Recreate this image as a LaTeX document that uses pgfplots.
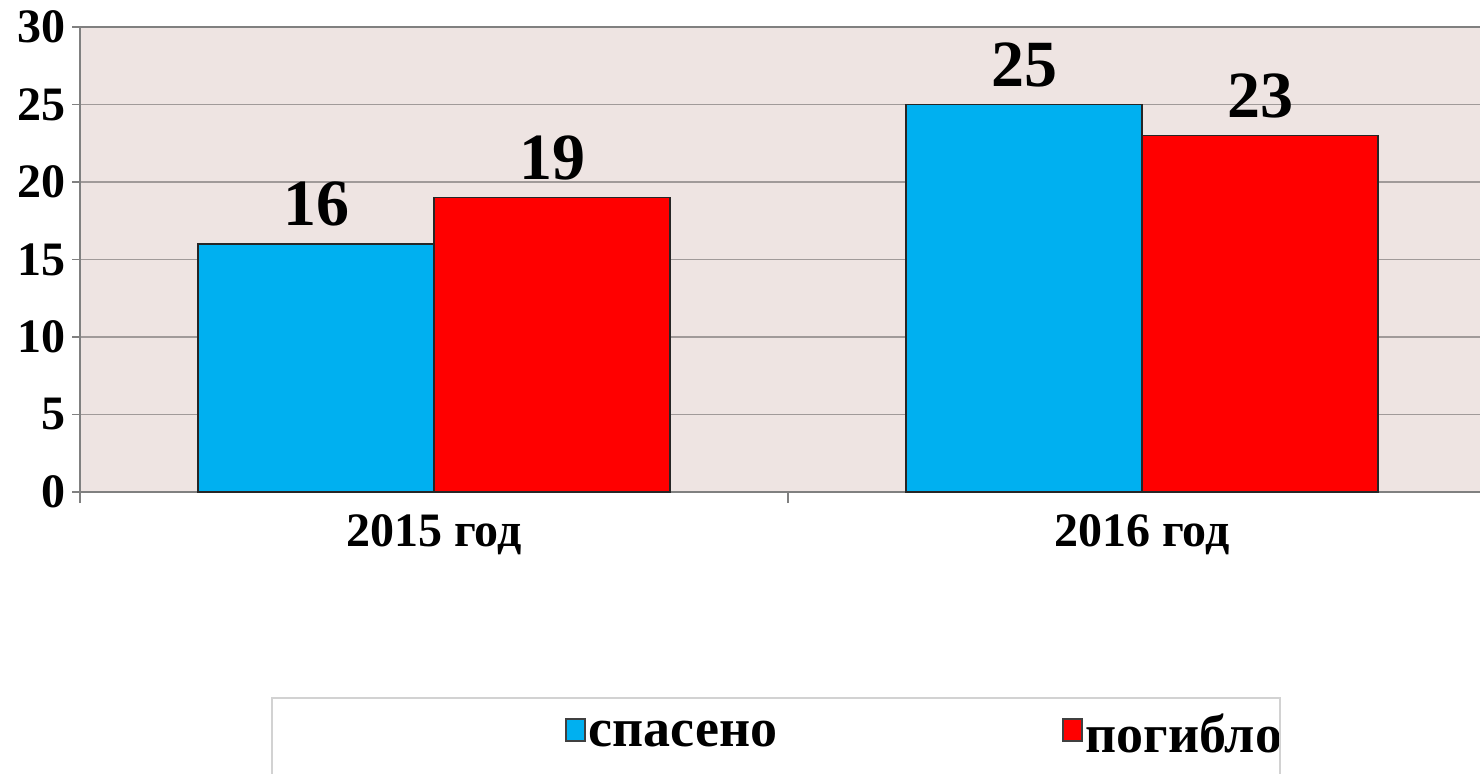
\documentclass[border=0pt]{standalone}
\usepackage{pgfplots}
\pgfplotsset{compat=1.18}
\usepackage{fontspec}
\setmainfont{Liberation Serif}

\definecolor{bgpink}{RGB}{238,228,226}
\definecolor{gridgray}{RGB}{160,154,153}
\definecolor{axisgray}{RGB}{128,128,128}
\definecolor{savedblue}{RGB}{0,176,240}
\definecolor{deadred}{RGB}{255,0,0}

\begin{document}
\begin{tikzpicture}
\begin{axis}[
    at={(40pt,140.5pt)}, anchor=south west,
    scale only axis,
    width=708pt, height=232.5pt,
    ybar=0pt, bar width=118pt,
    xmin=0.5, xmax=2.5,
    ymin=0, ymax=30,
    ytick={0,5,...,30},
    xtick={1,2},
    xticklabels={2015 год, 2016 год},
    minor xtick={0.5,1.5,2.5},
    major x tick style={draw=none},
    minor x tick style={axisgray, line width=0.8pt},
    y tick style={axisgray, line width=0.8pt},
    tick align=outside,
    xtick pos=bottom, ytick pos=left,
    major tick length=4pt,
    minor tick length=5.5pt,
    ymajorgrids,
    grid style={gridgray, line width=0.9pt},
    axis line style={axisgray, line width=0.9pt},
    axis background/.style={fill=bgpink},
    /pgf/number format/assume math mode=true,
    ticklabel style={font=\bfseries\fontsize{24}{24}\selectfont},
    yticklabel style={inner xsep=3pt},
    xticklabel style={yshift=-4pt},
    nodes near coords,
    nodes near coords style={font=\bfseries\fontsize{33}{33}\selectfont,
        anchor=south, inner sep=0pt, yshift=8.5pt},
    clip=false,
    legend columns=2,
    legend style={draw=none, fill=none,
        at={(0.3425,-0.5226)}, anchor=west,
        font=\bfseries\fontsize{27}{27}\selectfont,
        inner sep=0pt,
        nodes={inner ysep=0pt, inner xsep=1.5pt},
        /tikz/every even column/.append style={column sep=141pt}},
    legend image code/.code={
        \draw[#1, draw=black!75, line width=0.6pt] (0pt,-3pt) rectangle (9.5pt,8pt);},
]
\addplot[fill=savedblue, draw=black!85, line width=0.8pt] coordinates {(1,16) (2,25)};
\addlegendentry{спасено}
\addplot[fill=deadred, draw=black!85, line width=0.8pt] coordinates {(1,19) (2,23)};
\addlegendentry{погибло}
\end{axis}
\draw[gray!35, line width=0.8pt] (136pt,-6pt) rectangle (640pt,37.5pt);
\pgfresetboundingbox
\useasboundingbox (0pt,0pt) rectangle (740pt,386.5pt);
\end{tikzpicture}
\end{document}
